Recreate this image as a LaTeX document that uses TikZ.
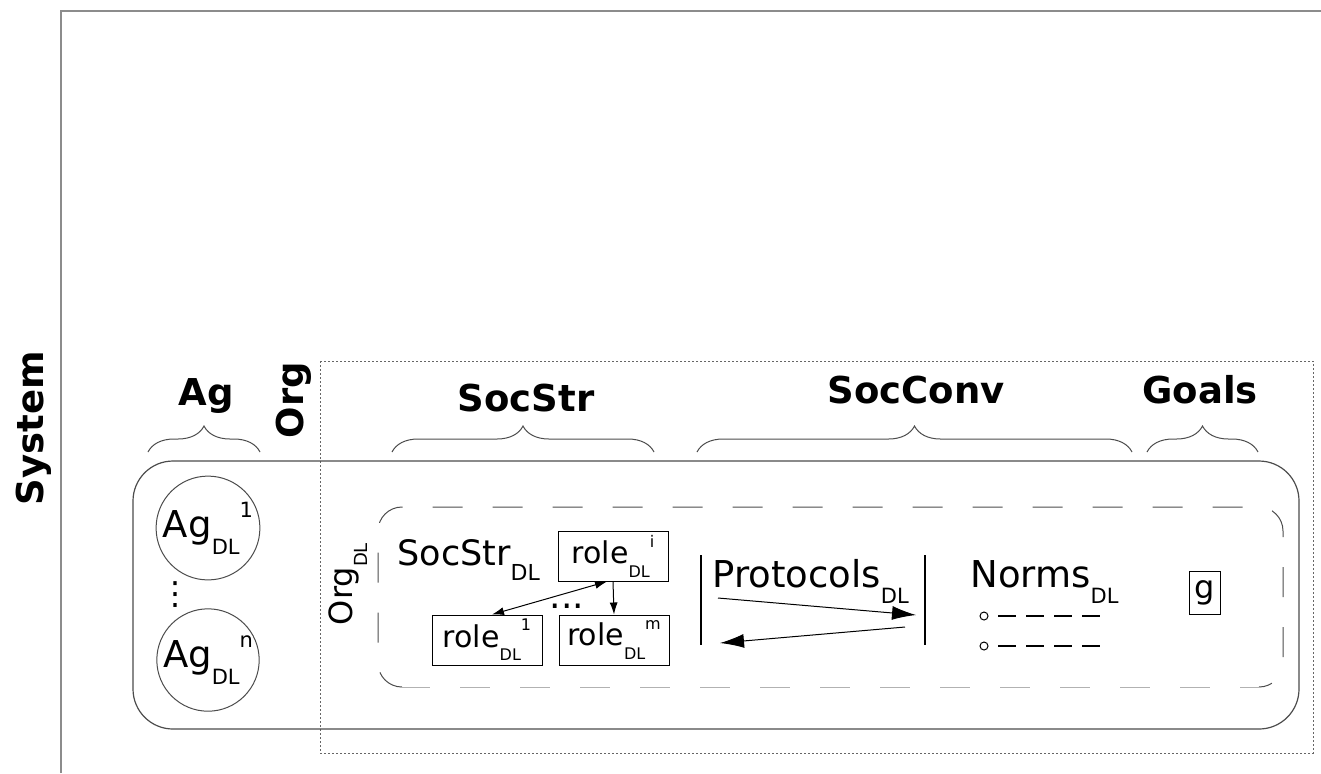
\documentclass[tikz,border=0pt]{standalone}
\usepackage{fontspec}
\setmainfont{DejaVu Sans}
\usetikzlibrary{arrows.meta}
\usetikzlibrary{decorations.pathreplacing}
\newcommand{\DL}[1][10.5]{\raisebox{-0.45em}{\fontsize{#1}{#1}\selectfont DL}}
\newcommand{\UP}[2][10.5]{\raisebox{0.55em}{\fontsize{#1}{#1}\selectfont #2}}

\begin{document}
\begin{tikzpicture}[x=0.5pt,y=-0.5pt,
    lbl/.style={font=\fontsize{18.5}{20}\selectfont\bfseries,inner sep=0},
    txt/.style={font=\fontsize{18.5}{20}\selectfont,inner sep=0},
    agent/.style={draw=black!70,circle,minimum size=51pt,inner sep=0,font=\fontsize{18.5}{20}\selectfont},
    rolebox/.style={draw,minimum width=55pt,minimum height=25pt,inner sep=0,font=\fontsize{15}{16}\selectfont},
    brc/.style={decorate,decoration={brace,amplitude=13pt},draw=black!70,line width=0.5pt},
    >={Latex[length=6pt,width=4pt]}, line width=0.5pt,
    bigarr/.style={-{Latex[length=12pt,width=7pt]}}]
\useasboundingbox (0,0) rectangle (1321,773);
\draw[black!45,line width=1pt] (61,773) -- (61,11) -- (1321,11);
\node[lbl,rotate=90,anchor=base] (system) at (43,428) {System};
\draw[black!60,dash pattern=on 1pt off 1pt] (320,361) rectangle (1313,753);
\draw[black!70,line width=0.6pt,rounded corners=20pt] (133,461) rectangle (1299,729);
\draw[black!70,dash pattern=on 15pt off 15pt,rounded corners=12pt] (400,687) -| (378,507) -| (1283,687) -- (1260,687);
\draw[black!30,dash pattern=on 15pt off 15pt] (400,687) -- (1260,687);
% braces and their labels
\foreach \a/\b in {148/260,392/654,697/1132,1147/1258}
    \draw[brc] (\a,452) -- (\b,452);
\node[lbl,anchor=base] (ag) at (206,405) {Ag};
\node[lbl,anchor=base,rotate=90] (org) at (303,400) {Org};
\node[lbl,anchor=base] (socstr) at (526,411) {SocStr};
\node[lbl,anchor=base] (socconv) at (916,403) {SocConv};
\node[lbl,anchor=base] (goals) at (1200,403) {Goals};
% agents
\node[agent] (ag1) at (208,528) {Ag\DL\UP{1}};
\node[agent] (agn) at (208,660) {Ag\DL\UP{n}};
\node[txt,font=\fontsize{16}{16}\selectfont] (agdots) at (175,595) {⋮};
% organisation
\node[txt,font=\fontsize{16}{18}\selectfont,rotate=90] (orgdl) at (348,584) {Org\DL[9]};
\node[txt,font=\fontsize{17.5}{18}\selectfont,anchor=base west] (socstrdl) at (397,565) {SocStr\DL[11]};
\node[rolebox] (rolei) at (613,556) {role\DL[8]\UP[8]{i}};
\node[rolebox] (role1) at (487,640) {role\DL[8]\UP[8]{1}};
\node[rolebox] (rolem) at (614,640) {role\DL[8]\UP[8]{m}};
\draw[<->] ([xshift=-3pt]rolei.south) -- ([xshift=2.5pt]role1.north);
\draw[->] (rolei.south) -- (rolem.north);
\node[txt,font=\fontsize{18}{18}\selectfont] (roledots) at (567,606) {...};
% protocols
\coordinate (pl) at (701,555);
\coordinate (pr) at (925,555);
\draw[line width=0.6pt] (pl) -- ++(0,90);
\draw[line width=0.6pt] (pr) -- ++(0,90);
\node[txt,anchor=base west] (protocols) at (712,587) {Protocols\DL};
\coordinate (p1) at (718,598);
\coordinate (p2) at (916,615);
\coordinate (p3) at (905,627);
\coordinate (p4) at (720,643);
\draw[bigarr] (p1) -- (p2);
\draw[bigarr] (p3) -- (p4);
% norms and goals
\node[txt,anchor=base west] (norms) at (970,587) {Norms\DL};
\foreach \y in {616,646}{
    \draw (984,\y) circle (2pt);
    \draw[line width=1.3pt,dash pattern=on 9pt off 5pt] (998,\y) -- (1104,\y);
}
\node[draw,minimum width=15.5pt,minimum height=21.5pt,inner sep=0,txt,font=\fontsize{16}{16}\selectfont] (goal) at (1204.5,592.5) {g};
\end{tikzpicture}
\end{document}
